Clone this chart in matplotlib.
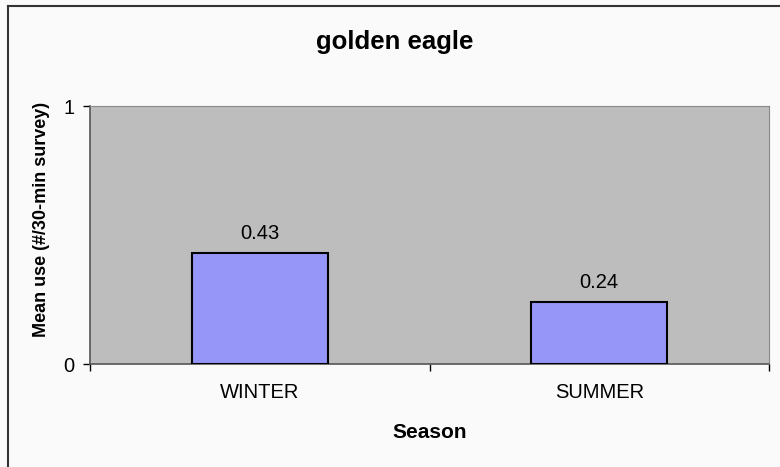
import matplotlib
matplotlib.use("Agg")
import matplotlib.pyplot as plt
from matplotlib.lines import Line2D

seasons = ["WINTER", "SUMMER"]
mean_use = [0.43, 0.24]
labels = ["0.43", "0.24"]

W, H = 780, 467
FONT = "Liberation Sans"
fig = plt.figure(figsize=(W / 100, H / 100), dpi=100)
fig.patch.set_facecolor("#FAFAFA")

# outer chart border (only top and left edges fall inside the image)
fig.add_artist(Line2D([8 / W, 8 / W], [0, 1 - 6 / H], color="#333333", lw=1.5))
fig.add_artist(Line2D([8 / W, 1], [1 - 6 / H, 1 - 6 / H], color="#333333", lw=1.5))

ax = fig.add_axes([90 / W, 1 - 364 / H, (769 - 90) / W, (364 - 106) / H])
ax.set_facecolor("#BDBDBD")
x = range(len(seasons))
ax.bar(x, mean_use, width=0.4, color="#9696F8", edgecolor="black", lw=1.5, zorder=3)
for xi, v, t in zip(x, mean_use, labels):
    ax.text(xi, v + 0.04, t, ha="center", va="bottom", fontsize=14.5, family=FONT)

ax.set_xlim(-0.5, 1.5)
ax.set_ylim(0, 1)
ax.set_yticks([0, 1])
ax.set_yticklabels(["0", "1"], fontsize=14.5, family=FONT)
ax.set_xticks([-0.5, 0.5, 1.5], minor=False)
ax.set_xticklabels([])
ax.set_xticks([0, 1], minor=True)
ax.set_xticklabels(seasons, minor=True, fontsize=14.5, family=FONT)
ax.tick_params(axis="x", which="minor", length=0, pad=14)
ax.tick_params(axis="x", which="major", length=5, width=1, direction="out")
ax.tick_params(axis="y", length=5, width=1, direction="out", pad=6)

for side in ["top", "right"]:
    ax.spines[side].set_color("#888888")
for side in ["left", "bottom"]:
    ax.spines[side].set_color("#555555")
    ax.spines[side].set_linewidth(1.2)

ax.set_xlabel("Season", fontsize=15, fontweight="bold", family=FONT)
ax.xaxis.set_label_coords(430 / W, 1 - 432 / H, transform=fig.transFigure)
ax.set_ylabel("Mean use (#/30-min survey)", fontsize=13, fontweight="bold", family=FONT)
ax.yaxis.set_label_coords(42 / W, 1 - 219 / H, transform=fig.transFigure)
ax.xaxis.label.set_va("center")
ax.yaxis.label.set_va("center")
fig.text(395 / W, 1 - 42 / H, "golden eagle", ha="center", va="center",
         fontsize=18.5, fontweight="bold", family=FONT)

fig.savefig("out.png", dpi=100, facecolor=fig.get_facecolor())
